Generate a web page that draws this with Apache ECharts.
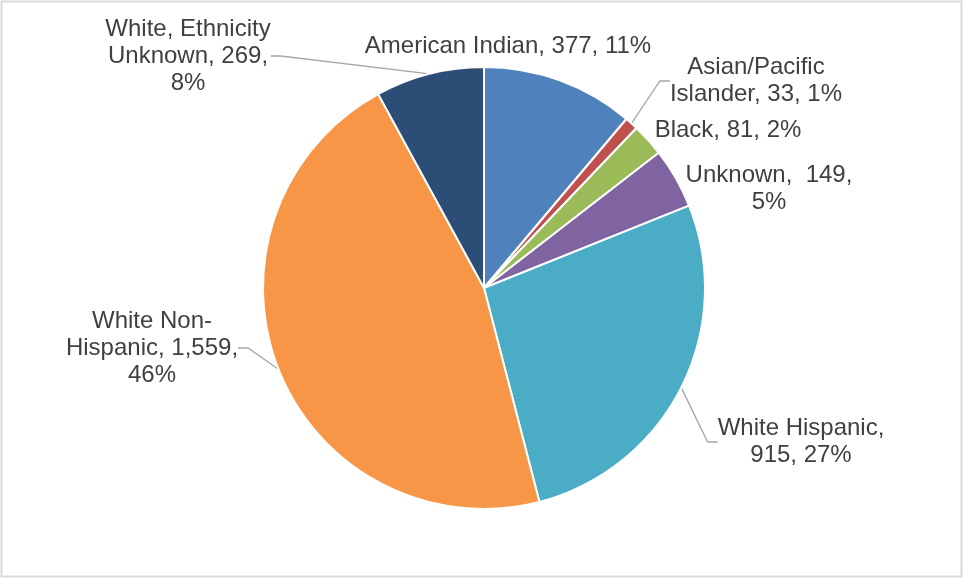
<!DOCTYPE html>
<html>
<head>
<meta charset="utf-8">
<script src="https://cdn.jsdelivr.net/npm/echarts@6/dist/echarts.min.js"></script>
<style>
  html, body { margin: 0; padding: 0; background: #fff; }
  #chart { width: 964px; height: 578px; }
</style>
</head>
<body>
<div id="chart"></div>
<script>
// Race / ethnicity breakdown
const categories = [
  'American Indian',
  'Asian/Pacific Islander',
  'Black',
  'Unknown',
  'White Hispanic',
  'White Non-Hispanic',
  'White, Ethnicity Unknown'
];
const counts = [377, 33, 81, 149, 915, 1559, 269];
const sliceColors = ['#4F81BD', '#C0504D', '#9BBB59', '#8064A2', '#4BACC6', '#F79646', '#2C4D75'];

// Label text layout (line breaks as shown on the chart)
const labelTemplates = [
  '{n}, {v}, {p}',
  'Asian/Pacific\nIslander, {v}, {p}',
  '{n}, {v}, {p}',
  'Unknown,  {v},\n{p}',
  'White Hispanic,\n{v}, {p}',
  'White Non-\nHispanic, {v},\n{p}',
  'White, Ethnicity\nUnknown, {v},\n{p}'
];

// Label anchor points (centre of each label block) and leader-line visibility
const labelSpots = [
  { x: 508, y: 46, line: false },
  { x: 756, y: 81, line: true },
  { x: 728, y: 130, line: false },
  { x: 769, y: 189, line: false },
  { x: 801, y: 442, line: true },
  { x: 152, y: 348, line: true },
  { x: 188, y: 56, line: true }
];

const fmt = n => n.toLocaleString('en-US');

const chart = echarts.init(document.getElementById('chart'), null, { renderer: 'canvas' });

chart.setOption({
  animation: false,
  backgroundColor: '#ffffff',
  graphic: [{
    type: 'rect',
    shape: { x: 1.5, y: 1.5, width: 960, height: 575 },
    style: { fill: 'none', stroke: '#d9d9d9', lineWidth: 2 },
    silent: true
  }],
  series: [{
    type: 'pie',
    center: [484, 288],
    radius: 221,
    startAngle: 90,
    clockwise: true,
    percentPrecision: 0,
    avoidLabelOverlap: false,
    itemStyle: { borderColor: '#ffffff', borderWidth: 2 },
    label: {
      show: true,
      position: 'outside',
      color: '#404040',
      fontFamily: 'Liberation Sans, Arial, sans-serif',
      fontSize: 24,
      lineHeight: 27,
      align: 'center',
      formatter: p => labelTemplates[p.dataIndex]
        .replace('{n}', p.name)
        .replace('{v}', fmt(p.value))
        .replace('{p}', p.percent + '%')
    },
    labelLine: {
      show: true,
      length: 10,
      length2: 10,
      lineStyle: { color: '#a6a6a6', width: 1.3 }
    },
    labelLayout: p => {
      const s = labelSpots[p.dataIndex];
      return { x: s.x, y: s.y, align: 'center', verticalAlign: 'middle' };
    },
    data: categories.map((name, i) => ({
      name: name,
      value: counts[i],
      itemStyle: { color: sliceColors[i] },
      labelLine: { show: labelSpots[i].line }
    }))
  }]
});
</script>
</body>
</html>
